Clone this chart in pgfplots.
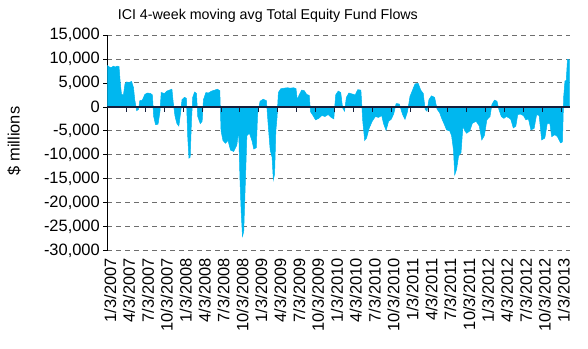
\documentclass[border=0pt]{standalone}
\usepackage{pgfplots}
\pgfplotsset{compat=1.18}
\usepackage{fontspec}
\setmainfont{Liberation Sans}
\definecolor{barblue}{RGB}{0,183,239}
\definecolor{zeroline}{RGB}{20,30,60}
\definecolor{gridgray}{RGB}{110,110,110}
\begin{document}
\begin{tikzpicture}[x=1bp,y=1bp]
\begin{axis}[
  at={(0,0)}, anchor=south west,
  scale only axis,
  width=462.7bp, height=215.7bp,
  xmin=-0.06, xmax=73.4,
  ymin=-30000, ymax=15000,
  ytick={-30000,-25000,...,15000},
  xtick={0,3,...,72},
  xticklabels={1/3/2007,4/3/2007,7/3/2007,10/3/2007,1/3/2008,4/3/2008,7/3/2008,10/3/2008,1/3/2009,4/3/2009,7/3/2009,10/3/2009,1/3/2010,4/3/2010,7/3/2010,10/3/2010,1/3/2011,4/3/2011,7/3/2011,10/3/2011,1/3/2012,4/3/2012,7/3/2012,10/3/2012,1/3/2013},
  xticklabel style={xshift=2.5bp, rotate=90, anchor=east, font=\fontsize{16.5}{18}\selectfont},
  yticklabel style={font=\fontsize{16.5}{18}\selectfont},
  scaled y ticks=false,
  /pgf/number format/.cd, 1000 sep={,}, assume math mode=true,
  /pgfplots/.cd,
  axis y line*=left,
  axis x line*=bottom,
  x axis line style={draw=none},
  xtick style={draw=none},
  y axis line style={black, line width=0.8bp},
  ytick style={black, line width=0.8bp},
  tick align=outside,
  major tick length=4bp,
  ymajorgrids,
  major grid style={gridgray, line width=0.9bp, dash pattern=on 5bp off 4bp},
  ylabel={\$ millions},
  ylabel style={at={(axis description cs:-0.2016,0.5086)}, anchor=center, font=\fontsize{16.5}{18}\selectfont},
  title={ICI 4-week moving avg Total Equity Fund Flows},
  title style={at={(axis description cs:0.347,1)}, anchor=base, yshift=10bp, font=\fontsize{14.3}{16}\selectfont},
  clip=false,
]
\addplot[fill=barblue, draw=barblue, line width=0.5bp] coordinates {
(0,8600) (0.3,8300) (0.6,8200) (0.9,8500) (1.2,8300) (1.5,8500) (1.8,8400) (2.0,5000) (2.2,2600) (2.5,2500)
(2.75,4800) (3.0,5200) (3.4,5100) (3.8,5300) (4.1,4000) (4.3,1500) (4.6,-800) (4.9,-500) (5.1,1300) (5.5,1400)
(5.9,2600) (6.3,2900) (6.8,2800) (7.1,2500) (7.3,-2000) (7.6,-3700) (8.0,-3600) (8.3,-1000) (8.5,3000) (9.0,2800)
(9.4,3300) (9.8,3500) (10.2,3700) (10.4,1000) (10.7,-2000) (11.0,-3500) (11.3,-4000) (11.6,-1000) (11.8,1500) (12.2,2000)
(12.5,1800) (12.7,-6000) (12.9,-10700) (13.1,-10500) (13.3,-3000) (13.5,2000) (13.8,3100) (14.1,2800) (14.3,-2000) (14.7,-3500)
(15.0,-3000) (15.2,1500) (15.6,3000) (16.0,2900) (16.5,3300) (17.0,3500) (17.4,3700) (17.8,3400) (18.0,-5000) (18.3,-7000)
(18.7,-7600) (19.1,-7000) (19.5,-9000) (20.0,-9300) (20.5,-8000) (20.8,-5000) (21.0,-15000) (21.2,-22000) (21.4,-27000) (21.6,-26000)
(21.8,-18000) (22.1,-6000) (22.5,-5500) (22.9,-7000) (23.2,-8800) (23.6,-8500) (23.8,-1500) (24.2,1200) (24.7,1600) (25.2,1300)
(25.5,-4000) (25.8,-9000) (26.1,-10500) (26.3,-15200) (26.5,-14000) (26.7,-5000) (26.9,-2000) (27.1,3000) (27.5,3800) (28,3900)
(28.5,4000) (29,3900) (29.5,4000) (29.9,3800) (30.1,1500) (30.4,2500) (30.8,3500) (31.2,3400) (31.6,2600) (32.0,2400)
(32.2,-1000) (32.6,-1800) (33.0,-2700) (33.5,-2400) (34,-1800) (34.5,-2000) (35,-1600) (35.5,-2200) (35.9,-2500) (36.2,2500)
(36.6,3300) (37.0,3000) (37.3,-200) (37.6,-900) (37.9,2000) (38.3,2900) (38.8,2700) (39.3,2500) (39.7,3600) (40.2,3500)
(40.5,-3000) (40.8,-7000) (41.1,-6500) (41.5,-4500) (42,-3000) (42.5,-2000) (43,-2200) (43.5,-1800) (43.8,-3500) (44.2,-4900)
(44.6,-3000) (45,-2600) (45.4,-1500) (45.8,700) (46.3,600) (46.8,-1500) (47.2,-2600) (47.6,-1000) (48.0,2200) (48.4,3500)
(48.8,4800) (49.3,4900) (49.7,3500) (50.1,2800) (50.4,-500) (50.7,-900) (51.0,1500) (51.4,2300) (51.9,2000) (52.3,-500)
(52.7,-1200) (53.0,-2300) (53.4,-3500) (53.8,-4800) (54.3,-5000) (54.6,-6000) (54.9,-9000) (55.1,-14200) (55.4,-13000) (55.7,-10300)
(56.1,-9500) (56.4,-4000) (56.7,-5000) (57.0,-5500) (57.5,-5000) (57.9,-3400) (58.5,-3000) (59.0,-4000) (59.4,-6900) (59.8,-6000)
(60.2,-2700) (60.7,-2000) (61.0,500) (61.4,1400) (61.8,1200) (62.1,-500) (62.5,-2000) (62.9,-2400) (63.3,-2000) (63.7,-2300)
(64.0,-2600) (64.4,-4400) (64.8,-4000) (65.1,-1600) (65.5,-1500) (66.0,-1800) (66.4,-2700) (66.8,-2500) (67.2,-4800) (67.7,-4500)
(68.1,-1600) (68.5,-1800) (68.9,-6900) (69.4,-6500) (69.8,-3400) (70.2,-3500) (70.5,-6200) (71.0,-5800) (71.4,-6200) (71.9,-7500)
(72.2,-7300) (72.4,2200) (72.6,5400) (72.8,5500) (73.0,9900) (73.3,9800)
} \closedcycle;
\draw[zeroline, line width=1.6bp] (axis cs:-0.06,0) -- (axis cs:73.4,0);
\pgfplotsinvokeforeach{3,6,9,12,15,18,21,24,27,30,33,36,39,42,45,48,51,54,57,60,63,66,69,72}{
  \draw[zeroline, line width=1bp] (axis cs:#1,0) -- ++(0pt,-5pt);
}
\end{axis}
\pgfresetboundingbox
\path (-107.3bp,-98.3bp) rectangle (480.7bp,250.7bp);
\end{tikzpicture}
\end{document}
